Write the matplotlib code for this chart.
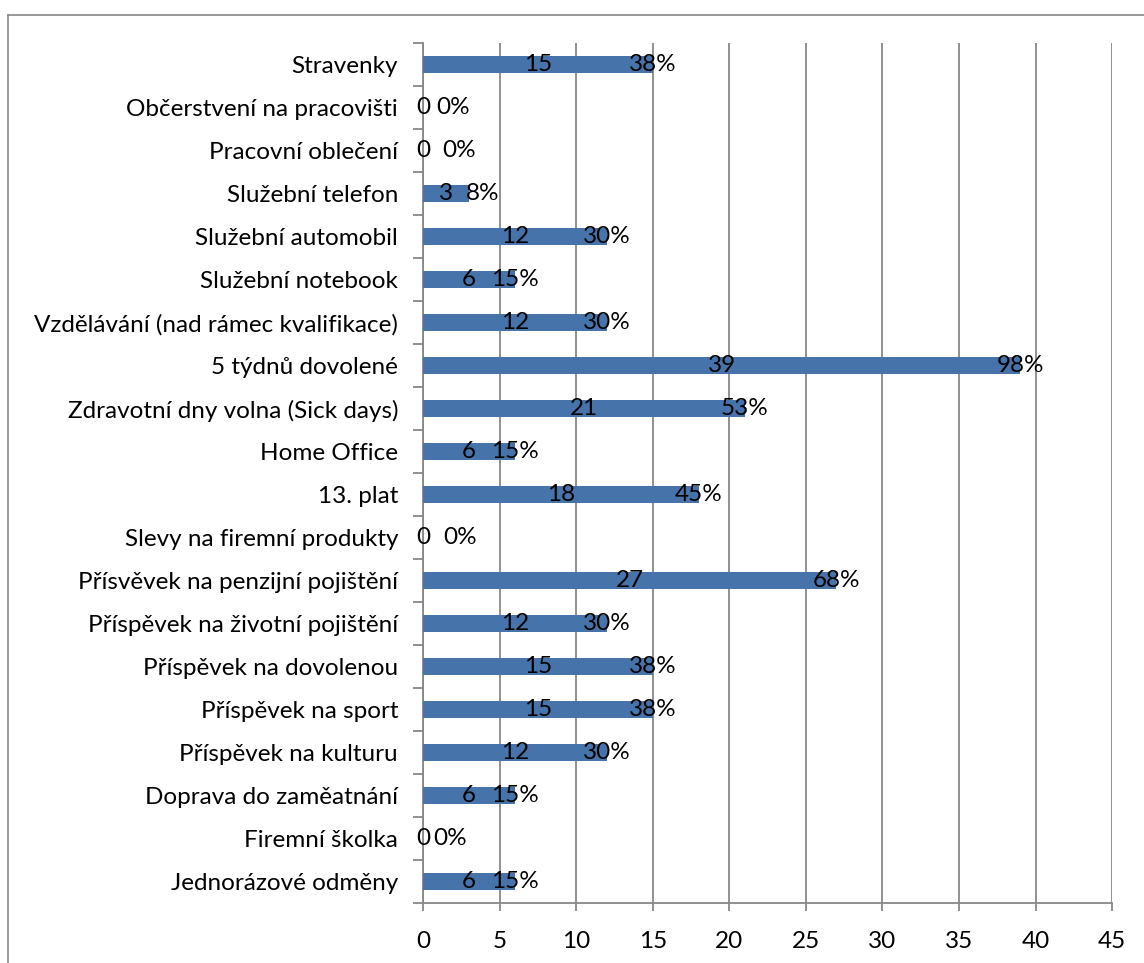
import matplotlib
matplotlib.use("Agg")
import matplotlib.pyplot as plt
from matplotlib.lines import Line2D

# Benefity - počet odpovědí a podíl (kategorie zdola nahoru)
kategorie = [
    "Jednorázové odměny",
    "Firemní školka",
    "Doprava do zaměatnání",
    "Příspěvek na kulturu",
    "Příspěvek na sport",
    "Příspěvek na dovolenou",
    "Příspěvek na životní pojištění",
    "Přísvěvek na penzijní pojištění",
    "Slevy na firemní produkty",
    "13. plat",
    "Home Office",
    "Zdravotní dny volna (Sick days)",
    "5 týdnů dovolené",
    "Vzdělávání (nad rámec kvalifikace)",
    "Služební notebook",
    "Služební automobil",
    "Služební telefon",
    "Pracovní oblečení",
    "Občerstvení na pracovišti",
    "Stravenky",
]
pocet = [6, 0, 6, 12, 15, 15, 12, 27, 0, 18, 6, 21, 39, 12, 6, 12, 3, 0, 0, 15]
procenta = [15, 0, 15, 30, 38, 38, 30, 68, 0, 45, 15, 53, 98, 30, 15, 30, 8, 0, 0, 38]

# posun popisku procent, kde by se prekryval s poctem (v bodech)
posun_nula = {1: 7, 8: 14.5, 17: 14, 18: 9.5}
posun_konec = {16: 10}

plt.rcParams['font.family'] = ['Lato', 'DejaVu Sans']
fs = 17.5
barva = '#4674AA'
seda = '#888888'

fig = plt.figure(figsize=(11.44, 9.63), dpi=100)
ax = fig.add_axes([0.3698, 0.0623, 0.6023, 0.893])

y = list(range(len(kategorie)))
ax.barh(y, pocet, height=0.38, color=barva, zorder=3)

for i in y:
    ax.text(pocet[i] / 2, i, str(pocet[i]), ha='center', va='center',
            fontsize=fs, zorder=4)
    if pocet[i] == 0:
        ax.annotate(f"{procenta[i]}%", (0, i), xytext=(posun_nula[i], 0),
                    textcoords='offset points', ha='left', va='center',
                    fontsize=fs, zorder=4)
    else:
        ax.annotate(f"{procenta[i]}%", (pocet[i], i),
                    xytext=(posun_konec.get(i, 0), 0),
                    textcoords='offset points', ha='center', va='center',
                    fontsize=fs, zorder=4)

ax.set_xlim(0, 45)
ax.set_ylim(-0.5, len(kategorie) - 0.5)
ax.set_xticks(range(0, 46, 5))
ax.set_yticks(y)
ax.set_yticklabels(kategorie)
ax.set_yticks([v + 0.5 for v in range(-1, len(kategorie))], minor=True)

ax.grid(axis='x', color=seda, linewidth=1.3, zorder=0)
for s in ['top', 'right']:
    ax.spines[s].set_visible(False)
for s in ['left', 'bottom']:
    ax.spines[s].set_color(seda)
    ax.spines[s].set_linewidth(1.3)

ax.tick_params(axis='y', which='major', length=0, pad=18, labelsize=fs)
ax.tick_params(axis='y', which='minor', length=7, width=1.3, color=seda)
ax.tick_params(axis='x', length=6, width=1.3, color=seda, pad=14, labelsize=fs)

# ramecek grafu
fig.add_artist(Line2D([8 / 1144, 8 / 1144], [0, 948 / 963], color=seda, lw=1.2))
fig.add_artist(Line2D([8 / 1144, 1], [948 / 963, 948 / 963], color=seda, lw=1.2))

fig.savefig("out.png", dpi=100)
